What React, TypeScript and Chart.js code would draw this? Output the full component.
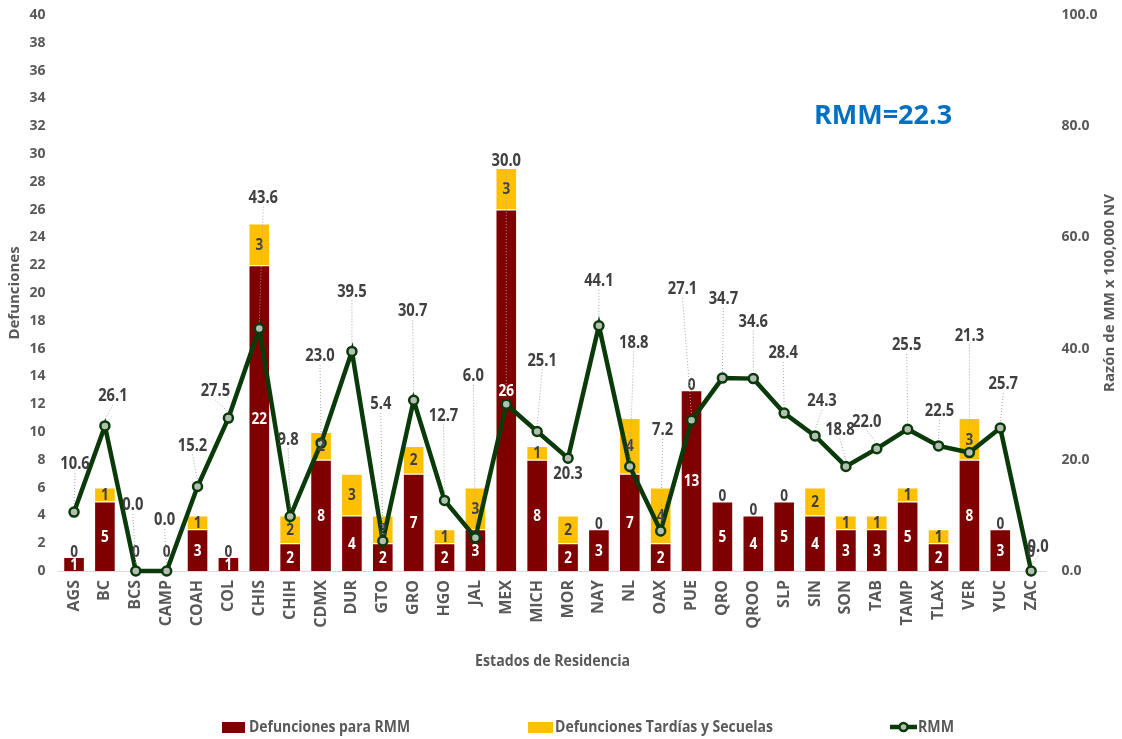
import React, { useEffect, useRef } from 'react';
import { Chart, registerables } from 'chart.js';

Chart.register(...registerables);

const states = ['AGS', 'BC', 'BCS', 'CAMP', 'COAH', 'COL', 'CHIS', 'CHIH', 'CDMX', 'DUR', 'GTO', 'GRO', 'HGO', 'JAL', 'MEX', 'MICH', 'MOR', 'NAY', 'NL', 'OAX', 'PUE', 'QRO', 'QROO', 'SLP', 'SIN', 'SON', 'TAB', 'TAMP', 'TLAX', 'VER', 'YUC', 'ZAC'];
const defuncionesRMM = [1, 5, 0, 0, 3, 1, 22, 2, 8, 4, 2, 7, 2, 3, 26, 8, 2, 3, 7, 2, 13, 5, 4, 5, 4, 3, 3, 5, 2, 8, 3, 0];
const defuncionesTardias = [0, 1, 0, 0, 1, 0, 3, 2, 2, 3, 2, 2, 1, 3, 3, 1, 2, 0, 4, 4, 0, 0, 0, 0, 2, 1, 1, 1, 1, 3, 0, 0];
const rmm = [10.6, 26.1, 0.0, 0.0, 15.2, 27.5, 43.6, 9.8, 23.0, 39.5, 5.4, 30.7, 12.7, 6.0, 30.0, 25.1, 20.3, 44.1, 18.8, 7.2, 27.1, 34.7, 34.6, 28.4, 24.3, 18.8, 22.0, 25.5, 22.5, 21.3, 25.7, 0.0];
const rmmNacional = 'RMM=22.3';
const leftAxis = { min: 0, max: 40, step: 2 };
const rightAxis = { min: 0, max: 100, step: 20 };

// label placement (dx, dy) of RMM value labels relative to their point
const rmmLabelOffsets: [number, number][] = [
  [1, -49], [8, -31], [-3, -67], [-2, -52], [-5, -42], [-13, -28], [4, -132], [-2, -78],
  [-1, -88], [0, -61], [-2, -138], [-1, -90], [-1, -86], [-2, -163], [0, -244], [5, -72],
  [0, 15], [0, -46], [4, -125], [2, -102], [-9, -132], [1, -80], [0, -58], [-1, -61],
  [7, -36], [-6, -38], [-10, -28], [-1, -85], [1, -36], [0, -118], [3, -45], [7, -25],
];

const GRAY = '#595959';
const DARK = '#404040';
const RED = '#7F0000';
const YELLOW = '#FFC000';
const GREEN = '#0A3A0A';
const POINT_FILL = '#B3BFB3';
const FONT = '"Open Sans", "DejaVu Sans", sans-serif';

function squeezeText(ctx: CanvasRenderingContext2D, text: string, x: number, y: number, factor: number) {
  const w = ctx.measureText(text).width;
  ctx.fillText(text, x, y, w * factor);
}

const labelsPlugin = {
  id: 'customLabels',
  afterDraw(chart: any) {
    const ctx: CanvasRenderingContext2D = chart.ctx;
    const redMeta = chart.getDatasetMeta(1);
    const yellowMeta = chart.getDatasetMeta(2);
    const lineMeta = chart.getDatasetMeta(0);
    ctx.save();
    ctx.textAlign = 'center';
    ctx.textBaseline = 'middle';

    // bar labels
    ctx.font = `bold 16px ${FONT}`;
    states.forEach((_, i) => {
      const r = redMeta.data[i];
      const yv = yellowMeta.data[i];
      if (defuncionesRMM[i] > 0) {
        ctx.fillStyle = '#FFFFFF';
        squeezeText(ctx, String(defuncionesRMM[i]), r.x, (r.y + r.base) / 2 + 1, 0.85);
      }
      ctx.fillStyle = DARK;
      if (defuncionesTardias[i] > 0) {
        squeezeText(ctx, String(defuncionesTardias[i]), yv.x, (yv.y + yv.base) / 2 + 1, 0.85);
      } else {
        const lift = defuncionesRMM[i] === 0 ? 19 : 5;
        squeezeText(ctx, '0', yv.x, yv.y - lift, 0.85);
      }
    });

    // RMM labels with leader lines
    ctx.font = `bold 18px ${FONT}`;
    states.forEach((_, i) => {
      const p = lineMeta.data[i];
      const [dx, dy] = rmmLabelOffsets[i];
      const lx = p.x + dx;
      const ly = p.y + dy;
      if (dy < -22) {
        ctx.save();
        ctx.strokeStyle = '#A6A6A6';
        ctx.lineWidth = 1;
        ctx.setLineDash([1, 2]);
        ctx.beginPath();
        ctx.moveTo(lx, ly + 10);
        ctx.lineTo(p.x, p.y - 6);
        ctx.stroke();
        ctx.restore();
      }
      ctx.fillStyle = DARK;
      squeezeText(ctx, rmm[i].toFixed(1), lx, ly + 1, 0.82);
    });

    // national RMM
    ctx.font = `bold 27px ${FONT}`;
    ctx.fillStyle = '#0070C0';
    ctx.fillText(rmmNacional, 883, 116);

    // axis titles
    ctx.fillStyle = GRAY;
    ctx.font = `bold 15px ${FONT}`;
    const midY = (chart.chartArea.top + chart.chartArea.bottom) / 2;
    ctx.save();
    ctx.translate(15, midY);
    ctx.rotate(-Math.PI / 2);
    ctx.fillText('Defunciones', 0, 0);
    ctx.restore();
    ctx.save();
    ctx.translate(1110, midY);
    ctx.rotate(-Math.PI / 2);
    ctx.fillText('Razón de MM x 100,000 NV', 0, 0);
    ctx.restore();
    ctx.font = `bold 16px ${FONT}`;
    ctx.fillText('Estados de Residencia', (chart.chartArea.left + chart.chartArea.right) / 2, 661, 155);

    // legend
    const ly = 727;
    ctx.textAlign = 'left';
    ctx.font = `bold 16px ${FONT}`;
    ctx.fillStyle = RED;
    ctx.fillRect(222, ly - 5, 23, 11);
    ctx.fillStyle = GRAY;
    ctx.fillText('Defunciones para RMM', 249, ly, 161);
    ctx.fillStyle = YELLOW;
    ctx.fillRect(528, ly - 5, 25, 11);
    ctx.fillStyle = GRAY;
    ctx.fillText('Defunciones Tardías y Secuelas', 555, ly, 218);
    ctx.strokeStyle = GREEN;
    ctx.lineWidth = 4.5;
    ctx.beginPath();
    ctx.moveTo(890, ly);
    ctx.lineTo(917, ly);
    ctx.stroke();
    ctx.beginPath();
    ctx.arc(903.5, ly, 4, 0, Math.PI * 2);
    ctx.fillStyle = POINT_FILL;
    ctx.fill();
    ctx.lineWidth = 2.5;
    ctx.stroke();
    ctx.fillStyle = GRAY;
    ctx.fillText('RMM', 918, ly, 36);
    ctx.restore();
  },
};

export default function App() {
  const ref = useRef<HTMLCanvasElement | null>(null);
  useEffect(() => {
    if (!ref.current) return;
    const chart = new Chart(ref.current, {
      type: 'bar',
      data: {
        labels: states,
        datasets: [
          {
            type: 'line',
            label: 'RMM',
            data: rmm,
            yAxisID: 'y1',
            borderColor: GREEN,
            borderWidth: 4.5,
            pointRadius: 4.5,
            pointBorderWidth: 2.5,
            pointBorderColor: GREEN,
            pointBackgroundColor: POINT_FILL,
            tension: 0,
            order: 0,
            clip: false,
          } as any,
          {
            type: 'bar',
            label: 'Defunciones para RMM',
            data: defuncionesRMM,
            yAxisID: 'y',
            backgroundColor: RED,
            borderColor: 'rgba(255,255,255,0.85)',
            borderWidth: 1,
            barPercentage: 0.7,
            categoryPercentage: 1,
            order: 1,
          },
          {
            type: 'bar',
            label: 'Defunciones Tardías y Secuelas',
            data: defuncionesTardias,
            yAxisID: 'y',
            backgroundColor: YELLOW,
            borderColor: 'rgba(255,255,255,0.85)',
            borderWidth: 1,
            barPercentage: 0.7,
            categoryPercentage: 1,
            order: 2,
          },
        ],
      },
      options: {
        responsive: false,
        animation: false,
        devicePixelRatio: 1,
        layout: { padding: { top: 15, left: 0, right: 0, bottom: 0 } },
        plugins: { legend: { display: false }, tooltip: { enabled: false } },
        scales: {
          x: {
            stacked: true,
            grid: { display: false, drawTicks: false },
            border: { color: '#D9D9D9', width: 1 },
            ticks: {
              autoSkip: false,
              minRotation: 90,
              maxRotation: 90,
              padding: 9,
              color: GRAY,
              font: { family: FONT, size: 16, weight: 'bold' },
            },
            afterFit: (s: any) => { s.height = 168; s.paddingLeft = 0; s.paddingRight = 0; },
          },
          y: {
            position: 'left',
            stacked: true,
            min: leftAxis.min,
            max: leftAxis.max,
            grid: { display: false, drawTicks: false },
            border: { display: false },
            ticks: {
              stepSize: leftAxis.step,
              padding: 13,
              color: GRAY,
              font: { family: FONT, size: 14, weight: 'bold' },
            },
            afterFit: (s: any) => { s.width = 58.6; s.paddingTop = 0; s.paddingBottom = 0; },
          },
          y1: {
            position: 'right',
            stacked: false,
            min: rightAxis.min,
            max: rightAxis.max,
            grid: { display: false, drawTicks: false },
            border: { display: false },
            ticks: {
              stepSize: rightAxis.step,
              padding: 15,
              color: GRAY,
              font: { family: FONT, size: 14, weight: 'bold' },
              callback: (v: any) => Number(v).toFixed(1),
            },
            afterFit: (s: any) => { s.width = 75.4; s.paddingTop = 0; s.paddingBottom = 0; },
          },
        },
      },
      plugins: [labelsPlugin],
    });
    return () => chart.destroy();
  }, []);
  return (
    <div style={{ position: 'absolute', left: 0, top: 0, width: 1122, height: 739, background: '#FFFFFF' }}>
      <canvas ref={ref} width={1122} height={739} style={{ display: 'block' }} />
    </div>
  );
}
